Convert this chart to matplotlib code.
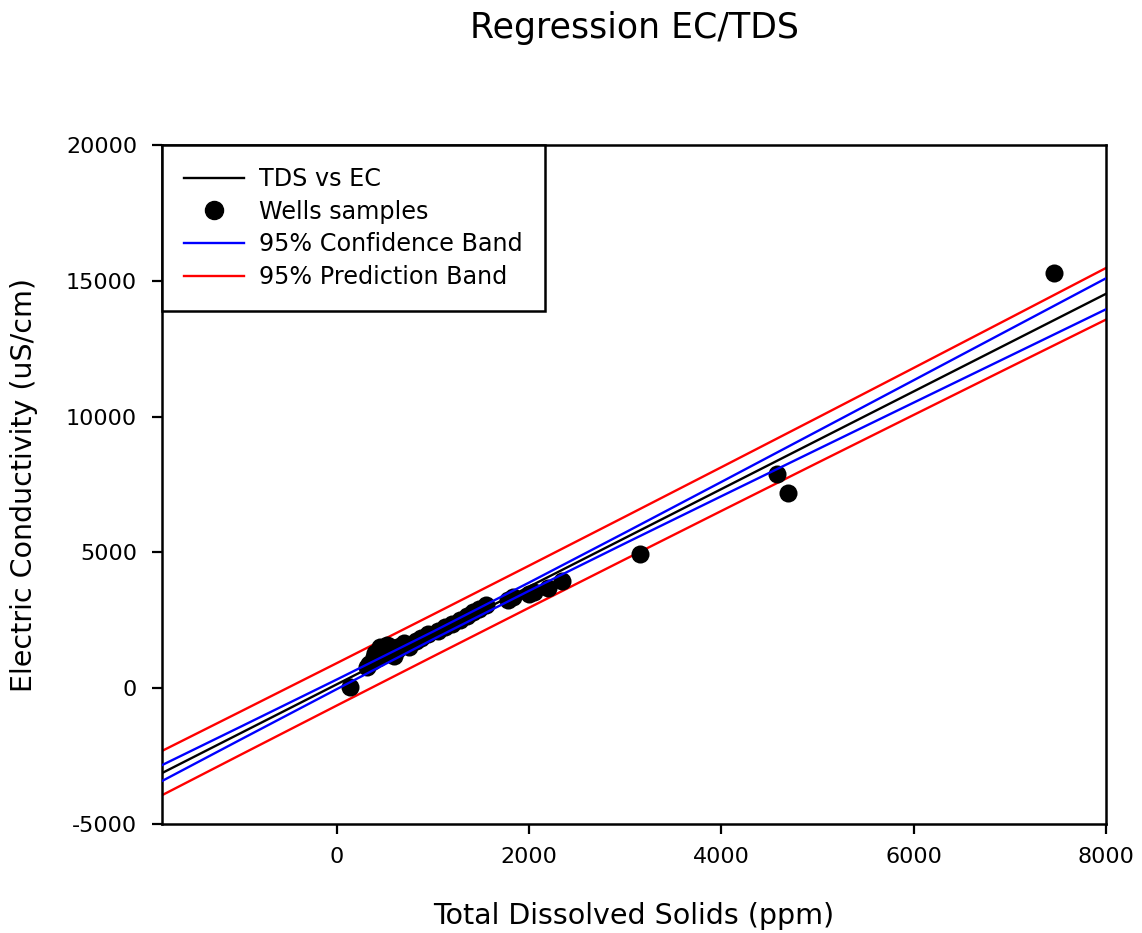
import matplotlib
matplotlib.use("Agg")
import matplotlib.pyplot as plt
from matplotlib.lines import Line2D

plt.rcParams['font.family'] = ['DejaVu Sans']
plt.rcParams['axes.unicode_minus'] = False

# Well samples (TDS ppm, EC uS/cm)
tds = [135, 310, 330, 370, 390, 400, 430, 450, 470, 520, 520, 560, 590, 620,
       660, 700, 750, 820, 870, 950, 1050, 1120, 1200, 1280, 1350, 1420, 1480,
       1550, 1780, 1830, 2000, 2050, 2200, 2340, 3150, 4580, 4690, 7460]
ec = [60, 780, 900, 1000, 1150, 1300, 1100, 1500, 1250, 1350, 1600, 1500, 1200,
      1400, 1550, 1650, 1500, 1750, 1850, 2000, 2100, 2250, 2350, 2500, 2650,
      2800, 2900, 3050, 3250, 3350, 3450, 3550, 3700, 3950, 4930, 7870, 7170, 15300]

# Regression line and bands read at these TDS values
band_x = [-1820, -1000, 0, 1000, 2000, 3000, 4000, 5000, 6000, 7000, 8000]
fit_y = [-3125, -1651, 146, 1943, 3740, 5537, 7334, 9131, 10928, 12725, 14522]
conf_upper = [-2832, -1415, 323, 2085, 3892, 5735, 7597, 9467, 11340, 13216, 15092]
conf_lower = [-3418, -1887, -31, 1801, 3588, 5339, 7071, 8795, 10516, 12234, 13952]
pred_upper = [-2310, -855, 926, 2716, 4515, 6323, 8139, 9962, 11793, 13630, 15472]
pred_lower = [-3940, -2447, -634, 1170, 2965, 4751, 6529, 8300, 10063, 11820, 13572]

x_ticks = [0, 2000, 4000, 6000, 8000]
y_ticks = [-5000, 0, 5000, 10000, 15000, 20000]

fig = plt.figure(figsize=(11.42, 9.33), dpi=100)
ax = fig.add_axes([162/1142, 1 - 824/933, (1106-162)/1142, (824-145)/933])

lw = 1.7
ax.plot(band_x, pred_upper, color='#ff0000', lw=lw, zorder=2)
ax.plot(band_x, pred_lower, color='#ff0000', lw=lw, zorder=2)
ax.scatter(tds, ec, s=13**2, color='black', zorder=3, linewidths=0)
ax.plot(band_x, fit_y, color='black', lw=lw, zorder=4)
ax.plot(band_x, conf_upper, color='#0000ff', lw=lw, zorder=4)
ax.plot(band_x, conf_lower, color='#0000ff', lw=lw, zorder=4)

ax.set_xlim(-1820, 8000)
ax.set_ylim(-5000, 20000)
ax.set_xticks(x_ticks)
ax.set_yticks(y_ticks)
ax.tick_params(direction='out', length=7, width=1.6, labelsize=16)
ax.tick_params(axis='x', pad=9.5)
ax.tick_params(axis='y', pad=11)
for s in ax.spines.values():
    s.set_linewidth(1.8)

ax.set_xlabel('Total Dissolved Solids (ppm)', fontsize=20.5, labelpad=25)
ax.set_ylabel('Electric Conductivity (uS/cm)', fontsize=20.5, labelpad=20)
fig.text(634/1142, 1 - 28/933, 'Regression EC/TDS', fontsize=25,
         ha='center', va='center')

handles = [
    Line2D([], [], color='black', lw=lw),
    Line2D([], [], color='black', marker='o', markersize=13, linestyle='None'),
    Line2D([], [], color='#0000ff', lw=lw),
    Line2D([], [], color='#ff0000', lw=lw),
]
labels = ['TDS vs EC', 'Wells samples', '95% Confidence Band', '95% Prediction Band']
leg = ax.legend(handles, labels, loc='upper left', bbox_to_anchor=(0, 1),
                borderaxespad=0, fontsize=17.2, handlelength=2.5,
                handletextpad=0.62, labelspacing=0.36, borderpad=0.93,
                fancybox=False, framealpha=1, edgecolor='black')
leg.get_frame().set_linewidth(1.8)

fig.savefig('out.png', dpi=100)
